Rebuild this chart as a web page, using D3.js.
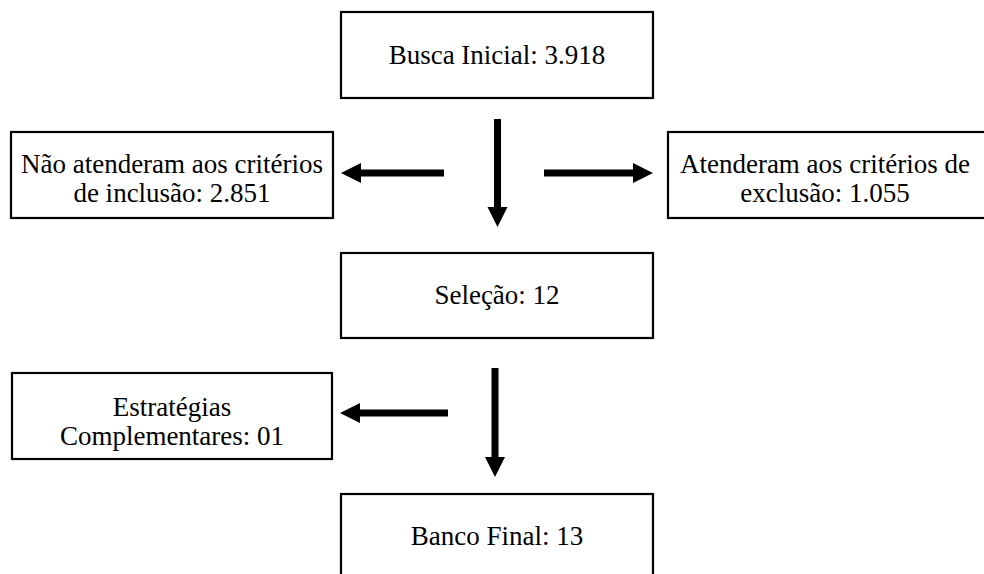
<!DOCTYPE html>
<html><head><meta charset="utf-8">
<script src="https://cdn.jsdelivr.net/npm/d3@7"></script>
<style>html,body{margin:0;padding:0;background:#fff;}svg{display:block;}
text{font-family:"Liberation Serif","Times New Roman",Times,"DejaVu Serif",serif;}</style>
</head><body>
<svg id="c" width="984" height="574"></svg>
<script>
// Data
const nodeIds = ["busca", "naoAtend", "atend", "selecao", "estrat", "banco"];
const nodeLines = [
  ["Busca Inicial: 3.918"],
  ["Não atenderam aos critérios", "de inclusão: 2.851"],
  ["Atenderam aos critérios de", "exclusão: 1.055"],
  ["Seleção: 12"],
  ["Estratégias", "Complementares: 01"],
  ["Banco Final: 13"]
];
const edgeFrom = ["busca", "busca", "busca", "selecao", "selecao"];
const edgeTo   = ["selecao", "naoAtend", "atend", "banco", "estrat"];

// Layout (positions kept separate from data)
const layout = {
  busca:    {x0: 341, x1: 653, y0: 12,  y1: 98,  base: 52},
  naoAtend: {x0: 11,  x1: 333, y0: 132, y1: 218, base: 41},
  atend:    {x0: 668, x1: 992, y0: 132, y1: 218, base: 41, cx: 825},
  selecao:  {x0: 341, x1: 653, y0: 253, y1: 338, base: 51},
  estrat:   {x0: 12,  x1: 332, y0: 373, y1: 459, base: 43},
  banco:    {x0: 341, x1: 653, y0: 494, y1: 600, base: 51}
};
const arrowGeom = [
  {x1: 497.5, y1: 119, x2: 497.5, y2: 227},
  {x1: 444, y1: 173, x2: 341, y2: 173},
  {x1: 544, y1: 173, x2: 653, y2: 173},
  {x1: 495, y1: 368, x2: 495, y2: 477},
  {x1: 448, y1: 413, x2: 340, y2: 413}
];

const svg = d3.select("#c");
const fontSize = 27, lineH = 29;

const nodes = nodeIds.map((id, i) => ({id, lines: nodeLines[i], ...layout[id]}));

const g = svg.selectAll("g.node").data(nodes).join("g").attr("class", "node");
g.append("rect")
  .attr("x", d => d.x0).attr("y", d => d.y0)
  .attr("width", d => d.x1 - d.x0).attr("height", d => d.y1 - d.y0)
  .attr("fill", "#fff").attr("stroke", "#000").attr("stroke-width", 2.2);

g.each(function(d) {
  const cx = d.cx !== undefined ? d.cx : (d.x0 + d.x1) / 2;
  const t = d3.select(this).append("text")
    .attr("text-anchor", "middle")
    .attr("font-size", fontSize).attr("fill", "#000");
  d.lines.forEach((l, k) => {
    t.append("tspan").attr("x", cx)
      .attr("y", d.y0 + d.base + k * lineH)
      .text(l);
  });
});

// Arrows as filled polygons
const shaftW = 7, headW = 20, headL = 20;
function arrowPath(a) {
  const dx = a.x2 - a.x1, dy = a.y2 - a.y1;
  const len = Math.hypot(dx, dy);
  const ux = dx / len, uy = dy / len, px = -uy, py = ux;
  const bx = a.x2 - ux * headL, by = a.y2 - uy * headL;
  const pts = [
    [a.x1 + px * shaftW / 2, a.y1 + py * shaftW / 2],
    [bx + px * shaftW / 2, by + py * shaftW / 2],
    [bx + px * headW / 2, by + py * headW / 2],
    [a.x2, a.y2],
    [bx - px * headW / 2, by - py * headW / 2],
    [bx - px * shaftW / 2, by - py * shaftW / 2],
    [a.x1 - px * shaftW / 2, a.y1 - py * shaftW / 2]
  ];
  return d3.line()(pts) + "Z";
}
const edges = edgeFrom.map((f, i) => ({from: f, to: edgeTo[i], ...arrowGeom[i]}));
svg.selectAll("path.arrow").data(edges).join("path").attr("class", "arrow")
  .attr("d", arrowPath).attr("fill", "#000");
</script>
</body></html>
